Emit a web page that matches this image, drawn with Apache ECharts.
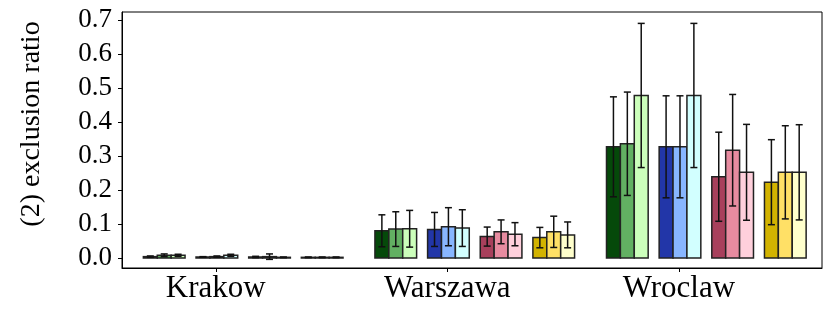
<!DOCTYPE html>
<html>
<head>
<meta charset="utf-8">
<script src="https://cdn.jsdelivr.net/npm/echarts@6/dist/echarts.min.js"></script>
<style>
  html, body { margin: 0; padding: 0; background: #fff; }
</style>
</head>
<body>
<div id="chart" style="width:831px;height:315px;"></div>
<script>
// categories
const cities = ['Krakow', 'Warszawa', 'Wroclaw'];
const yTicks = [0, 0.1, 0.2, 0.3, 0.4, 0.5, 0.6, 0.7];

// mean values per bar (one array per bar colour)
const green1 = [0.004, 0.080, 0.327];
const green2 = [0.008, 0.085, 0.336];
const green3 = [0.008, 0.086, 0.478];
const blue1 = [0.003, 0.084, 0.327];
const blue2 = [0.004, 0.092, 0.327];
const blue3 = [0.008, 0.088, 0.478];
const red1 = [0.003, 0.063, 0.239];
const red2 = [0.004, 0.077, 0.317];
const red3 = [0.002, 0.070, 0.252];
const yellow1 = [0.002, 0.060, 0.223];
const yellow2 = [0.002, 0.077, 0.252];
const yellow3 = [0.002, 0.068, 0.252];

// error (half length of the error bar)
const green1Err = [0.002, 0.047, 0.147];
const green2Err = [0.004, 0.051, 0.152];
const green3Err = [0.003, 0.054, 0.212];
const blue1Err = [0.001, 0.050, 0.150];
const blue2Err = [0.002, 0.056, 0.150];
const blue3Err = [0.003, 0.054, 0.212];
const red1Err = [0.002, 0.028, 0.131];
const red2Err = [0.008, 0.035, 0.164];
const red3Err = [0.001, 0.034, 0.141];
const yellow1Err = [0.001, 0.030, 0.125];
const yellow2Err = [0.001, 0.046, 0.137];
const yellow3Err = [0.001, 0.038, 0.140];

const bars = [
  { vals: green1, err: green1Err, color: '#05490a' },
  { vals: green2, err: green2Err, color: '#62b062' },
  { vals: green3, err: green3Err, color: '#ccffbb' },
  { vals: blue1, err: blue1Err, color: '#2236a8' },
  { vals: blue2, err: blue2Err, color: '#88b6ff' },
  { vals: blue3, err: blue3Err, color: '#d2ffff' },
  { vals: red1, err: red1Err, color: '#a8405c' },
  { vals: red2, err: red2Err, color: '#e78ba0' },
  { vals: red3, err: red3Err, color: '#ffd0dc' },
  { vals: yellow1, err: yellow1Err, color: '#d2b300' },
  { vals: yellow2, err: yellow2Err, color: '#ffe066' },
  { vals: yellow3, err: yellow3Err, color: '#ffffcc' }
];

// layout of the bars around each category (in category units)
const barW = 0.060;
const groupStart = -0.3127;
const groupStep = 0.2274;

function barOffset(k) {
  const g = Math.floor(k / 3), j = k % 3;
  return groupStart + g * groupStep + j * barW;
}

let myChart = echarts.init(document.getElementById('chart'));

const series = bars.map((b, k) => ({
  type: 'custom',
  name: 's' + k,
  data: cities.map((c, i) => [i, b.vals[i], b.err[i]]),
  encode: { x: 0, y: 1 },
  clip: false,
  renderItem: function (params, api) {
    const x = api.value(0), v = api.value(1), e = api.value(2);
    const off = barOffset(k);
    const p0 = api.coord([x + off, 0]);
    const p1 = api.coord([x + off + barW, v]);
    const cx = (p0[0] + p1[0]) / 2;
    const top = api.coord([x, v + e])[1];
    const bot = api.coord([x, v - e])[1];
    const cap = 3.5;
    return {
      type: 'group',
      children: [
        {
          type: 'rect',
          shape: { x: p0[0], y: p1[1], width: p1[0] - p0[0], height: p0[1] - p1[1] },
          style: { fill: b.color, stroke: '#222', lineWidth: 1.5 }
        },
        {
          type: 'line',
          shape: { x1: cx, y1: top, x2: cx, y2: bot },
          style: { stroke: '#111', lineWidth: 1.5 }
        },
        {
          type: 'line',
          shape: { x1: cx - cap, y1: top, x2: cx + cap, y2: top },
          style: { stroke: '#111', lineWidth: 1.5 }
        },
        {
          type: 'line',
          shape: { x1: cx - cap, y1: bot, x2: cx + cap, y2: bot },
          style: { stroke: '#111', lineWidth: 1.5 }
        }
      ]
    };
  }
}));

var option = {
  animation: false,
  grid: {
    left: 122, right: 9, top: 12, bottom: 47,
    show: true, borderColor: '#000', borderWidth: 1
  },
  xAxis: {
    type: 'value',
    min: -0.405,
    max: 2.618,
    splitLine: { show: false },
    axisLine: { show: true, onZero: false, lineStyle: { color: '#000' } },
    axisTick: { show: true, length: 4, customValues: [0, 1, 2], lineStyle: { color: '#000' } },
    axisLabel: {
      customValues: [0, 1, 2],
      formatter: v => cities[Math.round(v)],
      fontFamily: 'Liberation Serif',
      fontSize: 31,
      color: '#000',
      margin: 5
    }
  },
  yAxis: {
    type: 'value',
    min: -0.0294,
    max: 0.7235,
    splitLine: { show: false },
    axisLine: { show: true, onZero: false, lineStyle: { color: '#000' } },
    axisTick: { show: true, length: 4, customValues: yTicks, lineStyle: { color: '#000' } },
    axisLabel: {
      customValues: yTicks,
      formatter: v => v.toFixed(1),
      fontFamily: 'Liberation Serif',
      fontSize: 27,
      color: '#000',
      margin: 10
    }
  },
  graphic: [{
    type: 'text',
    x: 32,
    y: 124,
    rotation: Math.PI / 2,
    style: {
      text: '(2) exclusion ratio',
      font: '28px "Liberation Serif"',
      fill: '#000',
      textAlign: 'center',
      textVerticalAlign: 'middle'
    }
  }],
  series: series
};

myChart.setOption(option);
</script>
</body>
</html>
